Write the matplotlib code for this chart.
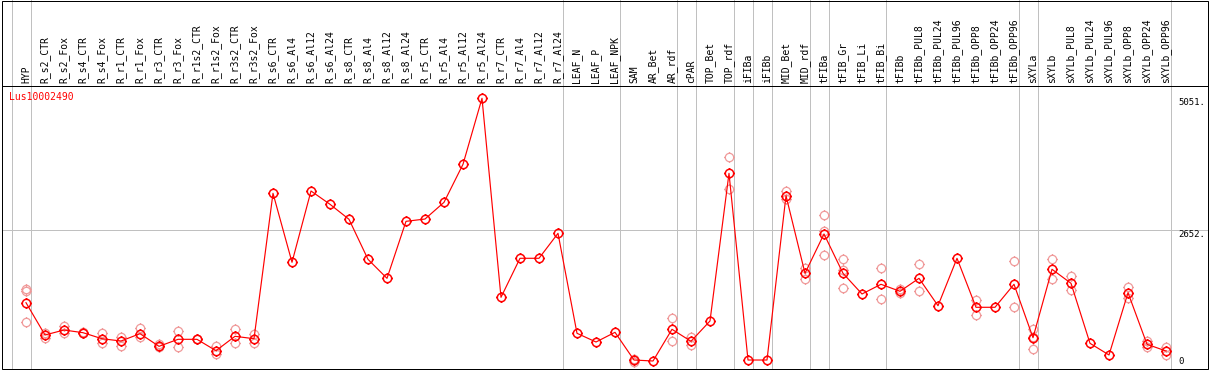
import matplotlib
matplotlib.use("Agg")
import matplotlib.pyplot as plt
import matplotlib.transforms as mtransforms
from matplotlib.patches import Rectangle
from matplotlib.path import Path

gene = "Lus10002490"

samples = [
    "HYP", "R_s2_CTR", "R_s2_Fox", "R_s4_CTR", "R_s4_Fox", "R_r1_CTR", "R_r1_Fox",
    "R_r3_CTR", "R_r3_Fox", "R_r1s2_CTR", "R_r1s2_Fox", "R_r3s2_CTR", "R_r3s2_Fox",
    "R_s6_CTR", "R_s6_Al4", "R_s6_Al12", "R_s6_Al24", "R_s8_CTR", "R_s8_Al4",
    "R_s8_Al12", "R_s8_Al24", "R_r5_CTR", "R_r5_Al4", "R_r5_Al12", "R_r5_Al24",
    "R_r7_CTR", "R_r7_Al4", "R_r7_Al12", "R_r7_Al24", "LEAF_N", "LEAF_P", "LEAF_NPK",
    "SAM", "AR_Bet", "AR_rdf", "cPAR", "TOP_Bet", "TOP_rdf", "iFIBa", "iFIBb",
    "MID_Bet", "MID_rdf", "tFIBa", "tFIB_Gr", "tFIB_Li", "tFIB_Bi", "tFIBb",
    "tFIBb_PUL8", "tFIBb_PUL24", "tFIBb_PUL96", "tFIBb_OPP8", "tFIBb_OPP24",
    "tFIBb_OPP96", "sXYLa", "sXYLb", "sXYLb_PUL8", "sXYLb_PUL24", "sXYLb_PUL96",
    "sXYLb_OPP8", "sXYLb_OPP24", "sXYLb_OPP96",
]

means = [
    1318, 728, 819, 770, 660, 618, 752, 521, 649, 649, 441, 704, 660,
    3316, 2056, 3358, 3115, 2841, 2110, 1763, 2804, 2846, 3151, 3846, 5051,
    1416, 2129, 2129, 2585, 759, 600, 777,
    271, 253, 832, 613, 984, 3681, 271, 271, 3272, 1855,
    2573, 1855, 1477, 1654, 1526, 1763, 1263, 2129, 1234, 1234, 1654,
    679, 1928, 1672, 576, 363, 1500, 558, 436,
]

replicates = [
    [1568, 1531, 965], [770, 668], [898, 764], [766, 775], [764, 582],
    [691, 527], [861, 686], [563, 503], [795, 503], [649, 649], [521, 381],
    [832, 576], [752, 587],
    [], [], [], [], [], [], [], [], [], [], [], [], [], [], [], [], [], [], [],
    [290, 240], [], [1033, 613], [697, 551], [], [3973, 3389], [], [],
    [3358, 3212], [1957, 1756], [2914, 2183, 2627], [2110, 1581, 1915], [],
    [1946, 1380], [1490, 1560], [2019, 1526], [], [], [1367, 1099], [],
    [2079, 1234], [837, 467, 700], [2110, 1745], [1800, 1544], [], [],
    [1605, 1409], [618, 503], [503, 363],
]

# last sample index of each group (separators drawn just after them)
group_ends = [-1, 0, 28, 31, 34, 35, 37, 38, 39, 41, 42, 45, 52, 53, 60]

y_low, y_mid, y_high = 253, 2652, 5051
y_tick_labels = ["5051.", "2652.", "0"]

W, H = 1209, 370
fig = plt.figure(figsize=(W / 100, H / 100), dpi=100)
ax = fig.add_axes([0, 0, 1, 1])
ax.axis("off")

# pixel layout of the plot area
x0_px, step_px = 26, 19
y_low_px, y_high_px = 361, 98.3
u_per_px = (y_high - y_low) / (y_low_px - y_high_px)
ax.set_xlim(-x0_px / step_px, (W - x0_px) / step_px)
ax.set_ylim(y_low - (H - y_low_px) * u_per_px, y_low + y_low_px * u_per_px)

px = 0.72  # one pixel in points
mono = "DejaVu Sans Mono"

# frame and header separator
ax.add_patch(Rectangle((1.5 / W, 1 - 368.5 / H), 1206 / W, 368 / H,
                       transform=ax.transAxes, fill=False, ec="black", lw=px, zorder=5))
ax.plot([1.5 / W, 1207.5 / W], [1 - 85.5 / H, 1 - 85.5 / H],
        transform=ax.transAxes, color="black", lw=px, zorder=5)

for g in group_ends:
    ax.axvline(g + 0.25, ymin=1 - 368.5 / H, ymax=1, color="#c0c0c0", lw=px, zorder=1)
ax.axhline(y_mid, xmin=1.5 / W, xmax=1207.5 / W, color="#c0c0c0", lw=px, zorder=1)

# sample labels
blend = mtransforms.blended_transform_factory(ax.transData, ax.transAxes)
for i, s in enumerate(samples):
    ax.text(i, 1 - 83 / H, s, transform=blend, rotation=90, ha="center",
            va="bottom", fontsize=7, family=mono)

ax.text(9 / W, 1 - 92 / H, gene, transform=ax.transAxes, color="red",
        ha="left", va="top", fontsize=7, family=mono)

# value labels on the right
blend_y = mtransforms.blended_transform_factory(ax.transAxes, ax.transData)
ax.text(1178 / W, y_high, y_tick_labels[0], transform=blend_y, ha="left",
        va="top", fontsize=6.5, family=mono)
ax.text(1178 / W, y_mid, y_tick_labels[1], transform=blend_y, ha="left",
        va="top", fontsize=6.5, family=mono)
ax.text(1178 / W, y_low, y_tick_labels[2], transform=blend_y, ha="left",
        va="center", fontsize=6.5, family=mono)

# ring marker with small ticks on four sides
circle = Path.unit_circle()
tick_verts, tick_codes = [], []
for dx, dy in [(1, 0), (-1, 0), (0, 1), (0, -1)]:
    tick_verts += [(dx * 0.85, dy * 0.85), (dx * 1.3, dy * 1.3)]
    tick_codes += [Path.MOVETO, Path.LINETO]
ring = Path.make_compound_path(circle, Path(tick_verts, tick_codes))

rx, ry = [], []
for i, reps in enumerate(replicates):
    for v in reps:
        rx.append(i)
        ry.append(v)
ax.plot(rx, ry, ls="none", marker=ring, ms=7.8, mfc="none", mec="#f09a9a",
        mew=0.9, zorder=2)

ax.plot(range(len(means)), means, color="red", lw=0.85, marker=ring, ms=7.8,
        mfc="none", mec="red", mew=1.1, zorder=3)

fig.savefig("out.png", dpi=100)
